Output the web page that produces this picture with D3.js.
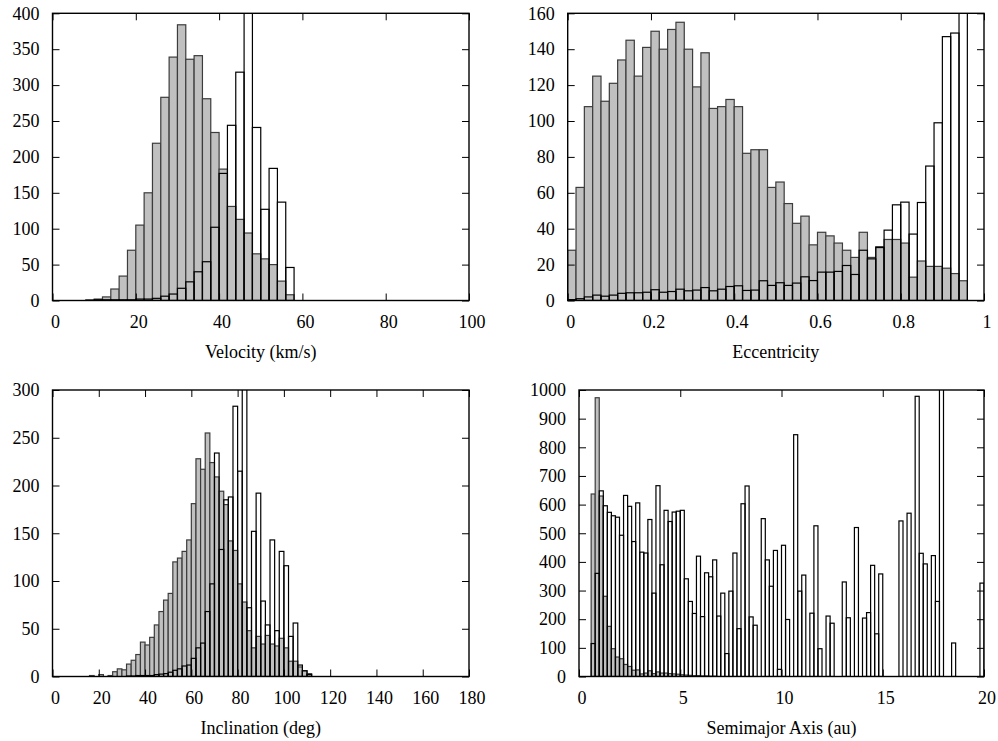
<!DOCTYPE html>
<html>
<head>
<meta charset="utf-8">
<script src="https://cdn.jsdelivr.net/npm/d3@7"></script>
<style>
  body { margin: 0; background: #fff; }
  svg { display: block; }
  text { font-family: "Liberation Serif", "Times New Roman", serif; font-size: 18px; fill: #000; }
</style>
</head>
<body>
<svg id="chart" width="998" height="741"></svg>
<script>
// velocity, 2 km/s bins starting at 8
var velStart = 8, velWidth = 2;
var velGrey = [1,2,5,16,34,70,105,150,219,283,339,384,336,341,281,234,183,131,113,94,65,58,50,27,8];
var velOpen = [0,1,1,1,1,1,2,2,3,6,9,17,26,40,54,102,177,244,318,430,241,127,184,137,46];

// eccentricity, 0.02 bins starting at 0
var eccStart = 0, eccWidth = 0.02;
var eccGrey = [28,63,108,125,111,121,134,145,125,141,150,140,151,155,140,119,138,107,108,112,
               108,82,84,84,63,66,54,43,47,31,38,36,32,28,24,38,24,30,34,34,
               32,13,22,19,19,18,15,11,0,0];
var eccOpen = [0.5,1,2,3,2.4,3,4,4.3,4.3,4.6,6,4.6,5,6.3,5.4,5.8,7.2,5.4,6.3,7.8,
               8.2,5.6,5.8,11,8.4,9.9,8.4,9.7,13.2,11.1,15.8,15.8,16.2,19.5,14.5,28,23.2,29.5,39.2,53.3,
               54.8,37,54.6,74.9,99,147,149,170,0,0];

// inclination, 2 deg bins starting at 16
var incStart = 16, incWidth = 2;
var incGrey = [1,0,2,0,1,5,8,7,13,17,23,36,33,41,54,68,80,87,120,124,131,143,181,228,217,255,224,209,194,180,
               142,132,97,78,48,30,42,34,43,34,32,40,30,16,16,10,6,3];
var incOpen = [0,0,0,0,0,0,0,0,0.5,0.5,1,1,1,1,2,2.5,3,4.5,6.5,8,11,12,19,30,35,68,97,234,133,185,
               188,283,215,320,72,152,192,79,54,143,48,131,116,42,56,12,6,2];

// semimajor axis, 0.2 au bins starting at 0
var semiStart = 0, semiWidth = 0.2;
var semiGrey = [0,0,0,637,973,630,280,175,97,68,62,42,35,22,23,9,12,20,10,16,
                12,12,10,9,8,6,5,4,3,3,2,2,1,1,0,0,0,0,0,0,
                0,0,0,0,0,0,0,0,0,0,0,0,0,0,0,0,0,0,0,0,
                0,0,0,0,0,0,0,0,0,0,0,0,0,0,0,0,0,0,0,0,
                0,0,0,0,0,0,0,0,0,0,0,0,0,0,0,0,0,0,0,0];
var semiOpen = [0,0,0,115,360,648,596,573,561,556,493,632,594,471,606,434,431,548,291,666,
                390,580,541,574,577,580,341,262,220,420,209,362,348,407,211,291,80,298,431,167,
                603,665,208,179,0,551,407,315,440,25,458,199,0,844,298,354,0,221,526,97,
                0,211,186,0,0,330,205,0,520,0,204,223,388,149,358,0,0,0,0,543,
                0,570,0,978,430,393,0,422,262,1050,0,0,117,0,0,0,0,0,0,326];

var svg = d3.select("#chart");

var panels = [
  {id: "vel", start: velStart, width: velWidth, grey: velGrey, open: velOpen,
   xDomain: [0, 100], xTicks: [0,20,40,60,80,100], yDomain: [0, 400], yTicks: d3.range(0, 401, 50),
   left: 52.5, right: 469, top: 13.3, bottom: 300.5, title: "Velocity (km/s)"},
  {id: "ecc", start: eccStart, width: eccWidth, grey: eccGrey, open: eccOpen,
   xDomain: [0, 1], xTicks: [0,0.2,0.4,0.6,0.8,1], yDomain: [0, 160], yTicks: d3.range(0, 161, 20),
   left: 567.7, right: 984, top: 13.3, bottom: 300.5, title: "Eccentricity"},
  {id: "inc", start: incStart, width: incWidth, grey: incGrey, open: incOpen,
   xDomain: [0, 180], xTicks: d3.range(0, 181, 20), yDomain: [0, 300], yTicks: d3.range(0, 301, 50),
   left: 52.5, right: 469, top: 390, bottom: 676.5, title: "Inclination (deg)"},
  {id: "semi", start: semiStart, width: semiWidth, grey: semiGrey, open: semiOpen,
   xDomain: [0, 20], xTicks: [0,5,10,15,20], yDomain: [0, 1000], yTicks: d3.range(0, 1001, 100),
   left: 579, right: 984, top: 390, bottom: 676.5, title: "Semimajor Axis (au)"}
];

function drawPanel(p) {
  var x = d3.scaleLinear().domain(p.xDomain).range([p.left, p.right]),
      y = d3.scaleLinear().domain(p.yDomain).range([p.bottom, p.top]);
  var g = svg.append("g");

  svg.append("clipPath").attr("id", "clip-" + p.id)
    .append("rect")
      .attr("x", p.left).attr("y", p.top)
      .attr("width", p.right - p.left).attr("height", p.bottom - p.top);

  var bars = g.append("g").attr("clip-path", "url(#clip-" + p.id + ")");
  var binX = function(i) { return x(p.start + i * p.width); },
      binW = x(p.width) - x(0);

  // filled sample first, open outlines on top
  bars.append("g").selectAll("rect")
    .data(p.grey.map(function(v, i) { return {i: i, v: v}; }).filter(d => d.v > 0))
    .enter().append("rect")
      .attr("x", d => binX(d.i))
      .attr("width", binW)
      .attr("y", d => y(d.v))
      .attr("height", d => y(0) - y(d.v))
      .style("fill", "#c0c0c0")
      .style("stroke", "#3c3c3c")
      .style("stroke-width", 1.2);

  bars.append("g").selectAll("rect")
    .data(p.open.map(function(v, i) { return {i: i, v: v}; }).filter(d => d.v > 0))
    .enter().append("rect")
      .attr("x", d => binX(d.i))
      .attr("width", binW)
      .attr("y", d => y(d.v))
      .attr("height", d => y(0) - y(d.v))
      .style("fill", "none")
      .style("stroke", "#000")
      .style("stroke-width", 1.2);

  var fmt = d3.format("");
  g.append("g").attr("class", "xaxis").attr("transform", "translate(0," + p.bottom + ")")
    .call(d3.axisBottom(x).tickValues(p.xTicks).tickSize(-7).tickPadding(15).tickFormat(fmt));
  g.append("g").attr("transform", "translate(0," + p.top + ")")
    .call(d3.axisTop(x).tickValues(p.xTicks).tickSize(-7).tickFormat(""));
  g.append("g").attr("transform", "translate(" + p.left + ",0)")
    .call(d3.axisLeft(y).tickValues(p.yTicks).tickSize(-7).tickPadding(13).tickFormat(fmt));
  g.append("g").attr("transform", "translate(" + p.right + ",0)")
    .call(d3.axisRight(y).tickValues(p.yTicks).tickSize(-7).tickFormat(""));

  g.selectAll(".domain").remove();
  g.selectAll(".tick line").style("stroke", "#000").style("stroke-width", 1);
  g.selectAll(".tick text").style("font-size", "18px")
    .style("font-family", "'Liberation Serif', 'Times New Roman', serif");
  g.selectAll(".xaxis .tick text").attr("dx", 2.5);

  g.append("rect")
    .attr("x", p.left).attr("y", p.top)
    .attr("width", p.right - p.left).attr("height", p.bottom - p.top)
    .style("fill", "none").style("stroke", "#000").style("stroke-width", 1.4);

  g.append("text")
    .attr("x", (p.left + p.right) / 2)
    .attr("y", p.bottom + 57)
    .attr("text-anchor", "middle")
    .text(p.title);
}

panels.forEach(drawPanel);
</script>
</body>
</html>
